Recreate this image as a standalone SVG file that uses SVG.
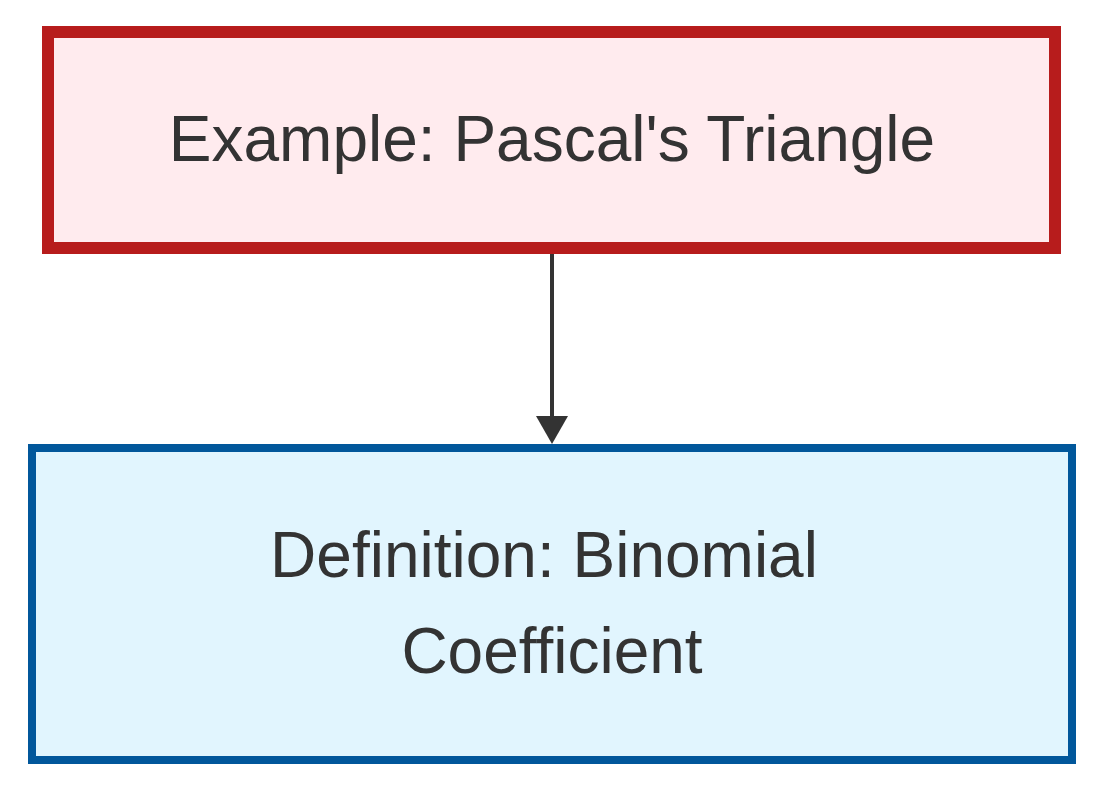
<svg xmlns="http://www.w3.org/2000/svg" width="1104" height="792" viewBox="0 0 1104 792">
<defs>
<style>
.lbl{font-family:"Liberation Sans",Arial,sans-serif;font-size:64px;fill:#333333;text-anchor:middle}
.edge{stroke:#333333;stroke-width:4;fill:none}
</style>
</defs>
<rect width="1104" height="792" fill="#ffffff"/>
<g id="connectors">
<path class="edge" d="M552,254 L552,418"/>
<path d="M536,416 L568,416 L552,444 Z" fill="#333333"/>
</g>
<g id="example">
<rect x="48" y="32" width="1007" height="216" fill="#ffebee" stroke="#b71c1c" stroke-width="12"/>
<text class="lbl" x="552" y="161">Example: Pascal's Triangle</text>
</g>
<g id="definition">
<rect x="32" y="448" width="1040" height="312" fill="#e1f5fe" stroke="#01579b" stroke-width="8"/>
<text class="lbl" x="544" y="577">Definition: Binomial</text>
<text class="lbl" x="552" y="673">Coefficient</text>
</g>
</svg>
